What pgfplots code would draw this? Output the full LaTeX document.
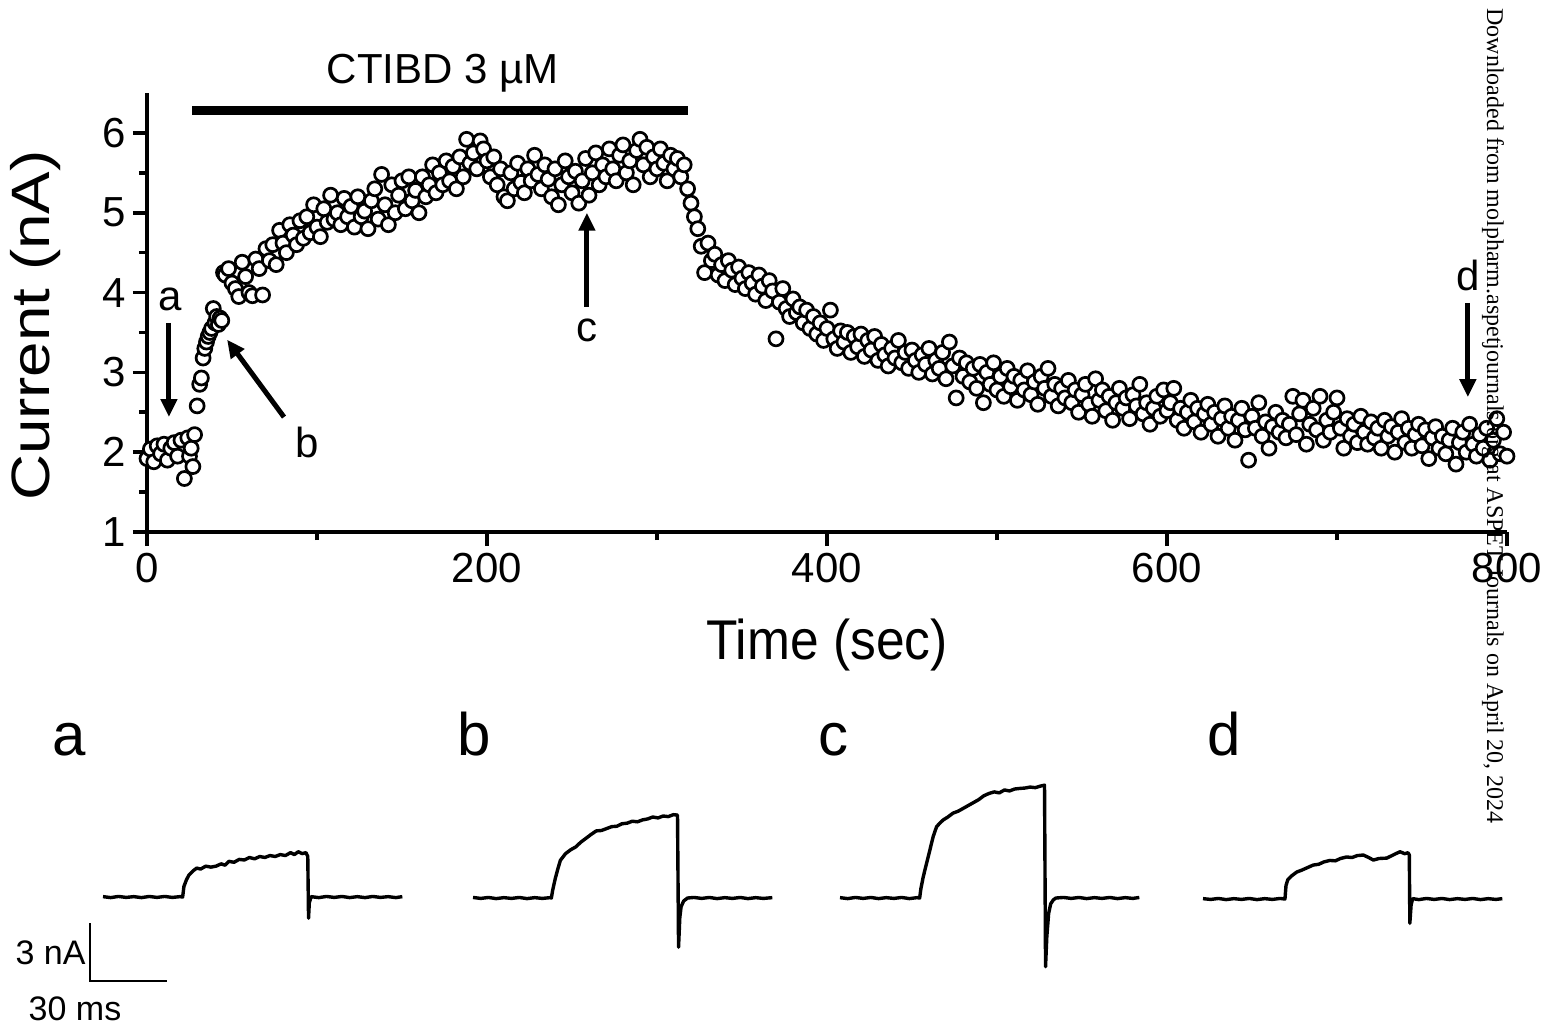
\documentclass[border=0pt]{standalone}
\usepackage{fontspec}
\setmainfont{Liberation Sans}
\newfontfamily\wmfont{Liberation Serif}
\usepackage{graphicx}
\usepackage{pgfplots}
\pgfplotsset{compat=1.18}
\usetikzlibrary{arrows.meta}

\newcommand\fsz[1]{\fontsize{#1}{#1}\selectfont}

% main time course: current (nA) vs time (s)
\pgfplotstableread{
t I
0 1.92
2 2.04
4 1.88
6 2.08
8 1.98
10 2.10
12 1.90
14 2.05
16 2.12
18 1.95
20 2.15
22 1.67
24 2.18
25 1.95
26 2.05
27 1.82
28 2.22
29.5 2.58
31 2.85
32 2.93
33 3.18
34 3.30
35 3.38
36 3.45
37 3.50
38 3.55
39 3.80
40 3.62
41 3.70
42 3.60
43 3.68
44 3.65
45 4.25
46 4.22
48 4.30
50 4.12
52 4.05
54 3.95
56 4.38
58 4.20
60 4.00
62 3.96
64 4.42
66 4.30
68 3.97
70 4.55
72 4.40
74 4.60
76 4.35
78 4.78
80 4.62
82 4.50
84 4.85
86 4.72
88 4.60
90 4.90
92 4.68
94 4.95
96 4.75
98 5.10
100 4.82
102 4.70
104 5.05
106 4.88
108 5.22
110 4.92
112 5.00
114 4.85
116 5.18
118 4.95
120 5.08
122 4.82
124 5.20
126 4.95
128 5.02
130 4.80
132 5.15
134 5.30
136 4.92
138 5.48
140 5.10
142 4.85
144 5.35
146 5.00
148 5.22
150 5.40
152 5.05
154 5.45
156 5.15
158 5.28
160 5.00
162 5.45
164 5.20
166 5.35
168 5.60
170 5.25
172 5.50
174 5.35
176 5.65
178 5.40
180 5.58
182 5.30
184 5.70
186 5.45
188 5.92
190 5.62
192 5.75
194 5.55
196 5.90
198 5.80
200 5.65
202 5.45
204 5.70
206 5.35
208 5.55
210 5.20
212 5.15
214 5.50
216 5.30
218 5.62
220 5.38
222 5.25
224 5.55
226 5.40
228 5.72
230 5.48
232 5.30
234 5.60
236 5.42
238 5.20
240 5.55
242 5.10
244 5.35
246 5.65
248 5.45
250 5.25
252 5.52
254 5.12
256 5.40
258 5.68
260 5.22
262 5.50
264 5.75
266 5.35
268 5.60
270 5.45
272 5.80
274 5.55
276 5.40
278 5.72
280 5.85
282 5.50
284 5.65
286 5.35
288 5.78
290 5.92
292 5.60
294 5.82
296 5.45
298 5.70
300 5.55
302 5.80
304 5.62
306 5.40
308 5.72
310 5.55
312 5.68
314 5.45
316 5.60
318 5.30
320 5.12
322 4.95
324 4.80
326 4.58
328 4.25
330 4.62
332 4.40
334 4.48
336 4.22
338 4.35
340 4.15
342 4.40
344 4.28
346 4.10
348 4.32
350 4.18
352 4.05
354 4.25
356 4.12
358 3.98
360 4.22
362 4.08
364 3.90
366 4.15
368 4.02
370 3.42
372 3.88
374 4.05
376 3.80
378 3.70
380 3.92
382 3.75
384 3.82
386 3.62
388 3.78
390 3.55
392 3.70
394 3.48
396 3.62
398 3.40
400 3.55
402 3.78
404 3.42
406 3.30
408 3.52
410 3.38
412 3.50
414 3.25
416 3.45
418 3.32
420 3.48
422 3.20
424 3.40
426 3.28
428 3.45
430 3.15
432 3.35
434 3.22
436 3.08
438 3.30
440 3.18
442 3.40
444 3.12
446 3.25
448 3.05
450 3.28
452 3.15
454 3.00
456 3.22
458 3.10
460 3.30
462 2.98
464 3.15
466 3.05
468 3.25
470 2.92
472 3.38
474 3.08
476 2.68
478 3.18
480 2.95
482 3.12
484 2.88
486 3.05
488 2.80
490 3.10
492 2.62
494 3.00
496 2.85
498 3.12
500 2.78
502 2.95
504 2.70
506 3.05
508 2.82
510 2.95
512 2.65
514 2.90
516 2.78
518 3.02
520 2.72
522 2.88
524 2.60
526 2.95
528 2.80
530 3.05
532 2.70
534 2.85
536 2.58
538 2.80
540 2.68
542 2.90
544 2.62
546 2.78
548 2.50
550 2.72
552 2.85
554 2.60
556 2.45
558 2.92
560 2.65
562 2.78
564 2.52
566 2.70
568 2.40
570 2.62
572 2.80
574 2.55
576 2.68
578 2.42
580 2.72
582 2.58
584 2.85
586 2.48
588 2.62
590 2.35
592 2.55
594 2.70
596 2.45
598 2.78
600 2.52
602 2.62
604 2.80
606 2.40
608 2.55
610 2.30
612 2.50
614 2.65
616 2.38
618 2.55
620 2.25
622 2.48
624 2.60
626 2.35
628 2.50
630 2.20
632 2.42
634 2.58
636 2.30
638 2.45
640 2.15
642 2.40
644 2.55
646 2.28
648 1.90
650 2.45
652 2.30
654 2.62
656 2.20
658 2.38
660 2.05
662 2.32
664 2.50
666 2.25
668 2.40
670 2.18
672 2.35
674 2.70
676 2.22
678 2.48
680 2.65
682 2.10
684 2.35
686 2.55
688 2.28
690 2.70
692 2.15
694 2.40
696 2.25
698 2.50
700 2.68
702 2.30
704 2.05
706 2.42
708 2.20
710 2.35
712 2.12
714 2.45
716 2.25
718 2.10
720 2.38
722 2.18
724 2.30
726 2.05
728 2.40
730 2.20
732 2.32
734 2.00
736 2.25
738 2.42
740 2.12
742 2.30
744 2.05
746 2.22
748 2.35
750 2.08
752 2.28
754 1.92
756 2.18
758 2.32
760 2.05
762 2.20
764 1.98
766 2.15
768 2.30
770 1.85
772 2.12
774 2.25
776 2.00
778 2.35
780 2.10
782 1.95
784 2.22
786 2.05
788 2.30
790 1.90
792 2.15
794 2.42
796 1.98
798 2.25
800 1.95
}\timecourse

\pgfplotsset{
  trace/.style={hide axis, scale only axis, width=150.3pt, height=101.3pt,
    xmin=0, xmax=117, ymin=-4, ymax=6.5, clip=false, anchor=south west},
  tracestyle/.style={black, line width=1.7pt, line join=round},
}

\begin{document}
\begin{tikzpicture}
\useasboundingbox (0,0) rectangle (776pt,-514.5pt);

\begin{axis}[
    at={(73.5pt,-266pt)}, anchor=south west,
    scale only axis, width=680pt, height=219.5pt,
    xmin=0, xmax=800, ymin=1, ymax=6.5,
    axis lines=left, axis line style={-, line width=1.8pt},
    xtick={0,200,400,600,800}, ytick={1,2,3,4,5,6},
    minor x tick num=1, minor y tick num=1,
    tick align=outside, tick pos=left,
    major tick length=7pt, minor tick length=4pt,
    every tick/.style={black, line width=1.8pt},
    /pgf/number format/assume math mode=true,
    ticklabel style={font=\fsz{21}},
    xlabel={\scalebox{0.92}[1]{Time (sec)}},
    ylabel={\scalebox{1.18}[1]{Current (nA)}},
    xlabel style={font=\fsz{28}, at={(axis description cs:0.5,-0.257)}, anchor=center},
    ylabel style={font=\fsz{27}, at={(axis description cs:-0.082,0.47)}, anchor=center},
    clip=false,
  ]
  \addplot[only marks, mark=*, mark size=3.5pt,
    mark options={draw=black, fill=white, line width=1.35pt}] table[x=t, y=I] {\timecourse};

  % drug application bar
  \draw[line width=4.5pt] (axis cs:26.5,6.275) -- (axis cs:318.2,6.275);
  \node[font=\fsz{21}] at (axis cs:174,6.75) {CTIBD 3 µM};

  % arrows marking the sweeps shown below
  \begin{scope}[line width=2.5pt, -{Triangle[width=8pt,length=9pt]}]
    \draw (axis cs:12.9,3.62) -- (axis cs:12.9,2.44);
    \draw (axis cs:80.6,2.44) -- (axis cs:47.1,3.41);
    \draw (axis cs:258.8,3.82) -- (axis cs:258.8,5.0);
    \draw (axis cs:777,3.87) -- (axis cs:777,2.69);
  \end{scope}
  \node[font=\fsz{21}] at (axis cs:13.5,3.92) {a};
  \node[font=\fsz{21}] at (axis cs:94.1,2.12) {b};
  \node[font=\fsz{21}] at (axis cs:258.8,3.53) {c};
  \node[font=\fsz{21}] at (axis cs:777,4.22) {d};
\end{axis}

% current traces (ms, nA)
\begin{axis}[trace, at={(51.5pt,-487.1pt)}]
  \addplot[tracestyle] coordinates {
    (0,0.02)(3,-0.03)(6,0.03)(9,-0.02)(12,0.02)(15,-0.03)(18,0.03)(21,-0.02)(24,0.03)(27,-0.02)(30,0.02)(31,0)
    (31.5,0.55)(32.5,0.9)(33.5,1.15)(35,1.35)(36.5,1.5)(38,1.45)(40,1.6)(42,1.55)(44,1.6)(46,1.72)
    (47.5,1.65)(49,1.85)(51,1.8)(53,1.95)(55,1.92)(57,2.05)(59,1.98)(61,2.1)(63,2.05)(65,2.15)
    (67,2.1)(69,2.2)(71,2.15)(73,2.3)(74.5,2.2)(76,2.35)(77.5,2.25)(79,2.3)(79.7,2.1)
    (80,-1.1)(80.3,-0.3)(81,0.02)(84,-0.03)(87,0.03)(90,-0.02)(93,0.03)(96,-0.03)(99,0.02)
    (102,-0.03)(105,0.03)(108,-0.02)(111,0.02)(114,-0.03)(116.5,0.02)};
\end{axis}

\begin{axis}[trace, at={(236.5pt,-487.6pt)}]
  \addplot[tracestyle] coordinates {
    (0,0.03)(3,-0.02)(6,0.03)(9,-0.03)(12,0.02)(15,-0.02)(18,0.03)(21,-0.03)(24,0.02)(27,-0.02)(30,0.02)(30.5,0)
    (31,0.4)(32,1.0)(33,1.5)(34,1.95)(36,2.3)(38,2.5)(40,2.65)(42,2.9)(44,3.1)(46,3.3)(48,3.48)
    (50,3.5)(52,3.6)(54,3.7)(56,3.72)(58,3.85)(60,3.88)(62,3.98)(64,3.95)(66,4.05)(68,4.1)
    (70,4.2)(72,4.15)(74,4.25)(76,4.22)(78,4.32)(79.6,4.3)
    (80,-2.55)(80.5,-1.0)(81,-0.45)(82,-0.15)(83.5,0)(86,0.03)(89,-0.02)(92,0.03)(95,-0.03)
    (98,0.02)(101,-0.02)(104,0.03)(107,-0.03)(110,0.02)(113,-0.02)(116.5,0.02)};
\end{axis}

\begin{axis}[trace, at={(420pt,-487.6pt)}]
  \addplot[tracestyle] coordinates {
    (0,0.02)(3,-0.03)(6,0.03)(9,-0.02)(12,0.03)(15,-0.03)(18,0.02)(21,-0.02)(24,0.03)(27,-0.03)(30,0.02)(31,0)
    (31.5,0.5)(32.4,1.1)(33.5,1.7)(35,2.5)(36.3,3.2)(37.6,3.7)(39,3.9)(40.2,4.05)(42,4.2)(44,4.4)
    (46,4.5)(48,4.65)(50,4.8)(52,4.95)(54,5.1)(56,5.3)(58,5.42)(60,5.5)(62,5.45)(64,5.6)
    (66,5.55)(68,5.65)(70,5.68)(72,5.7)(74,5.75)(76,5.72)(78,5.8)(79.6,5.85)
    (80,-3.56)(80.5,-2.0)(81.2,-0.8)(82,-0.3)(83,-0.1)(84,0)(87,0.03)(90,-0.02)(93,0.03)
    (96,-0.03)(99,0.02)(102,-0.02)(105,0.03)(108,-0.03)(111,0.02)(114,-0.02)(116.5,0.03)};
\end{axis}

\begin{axis}[trace, at={(601.5pt,-488.1pt)}]
  \addplot[tracestyle] coordinates {
    (0,0.02)(3,-0.02)(6,0.03)(9,-0.03)(12,0.02)(15,-0.02)(18,0.03)(21,-0.03)(24,0.02)(27,-0.02)(30,0.03)(31.9,0)
    (32.3,0.7)(33,1.0)(34.5,1.2)(36.5,1.4)(38.5,1.5)(40.5,1.62)(42.9,1.76)(45,1.8)(47,1.92)
    (49.4,2.0)(51.5,1.98)(53.5,2.1)(55.9,2.18)(58,2.15)(60,2.25)(62.4,2.28)(64.5,2.15)(66.3,2.02)
    (68.5,2.1)(71.5,2.12)(73.5,2.25)(75,2.35)(76.7,2.45)(78.5,2.35)(79.8,2.4)(80.3,2.28)
    (80.5,-1.26)(81,-0.3)(81.6,0.02)(84,-0.03)(87,0.03)(90,-0.02)(93,0.03)(96,-0.03)
    (99,0.02)(102,-0.02)(105,0.03)(108,-0.03)(111,0.02)(114,-0.02)(116.5,0.02)};
\end{axis}

\begin{scope}[x=0.5pt, y=-0.5pt]
  % scale bar
  \draw[line width=1.1pt] (90,923) -- (90,981) -- (167,981);
  \node[font=\fsz{17}, anchor=east, inner sep=0pt] at (86,953) {3 nA};
  \node[font=\fsz{17}, inner sep=0pt] at (75,1009) {30 ms};
  % panel letters
  \node[font=\fsz{30}, anchor=base west, inner sep=0pt] at (52,755) {a};
  \node[font=\fsz{30}, anchor=base west, inner sep=0pt] at (457,755) {b};
  \node[font=\fsz{30}, anchor=base west, inner sep=0pt] at (818,755) {c};
  \node[font=\fsz{30}, anchor=base west, inner sep=0pt] at (1207,755) {d};
  % download stamp
  \node[font=\wmfont\fsz{12}, rotate=-90, anchor=west, inner sep=0pt] at (1493,8)
    {Downloaded from molpharm.aspetjournals.org at ASPET Journals on April 20, 2024};
\end{scope}
\end{tikzpicture}
\end{document}
